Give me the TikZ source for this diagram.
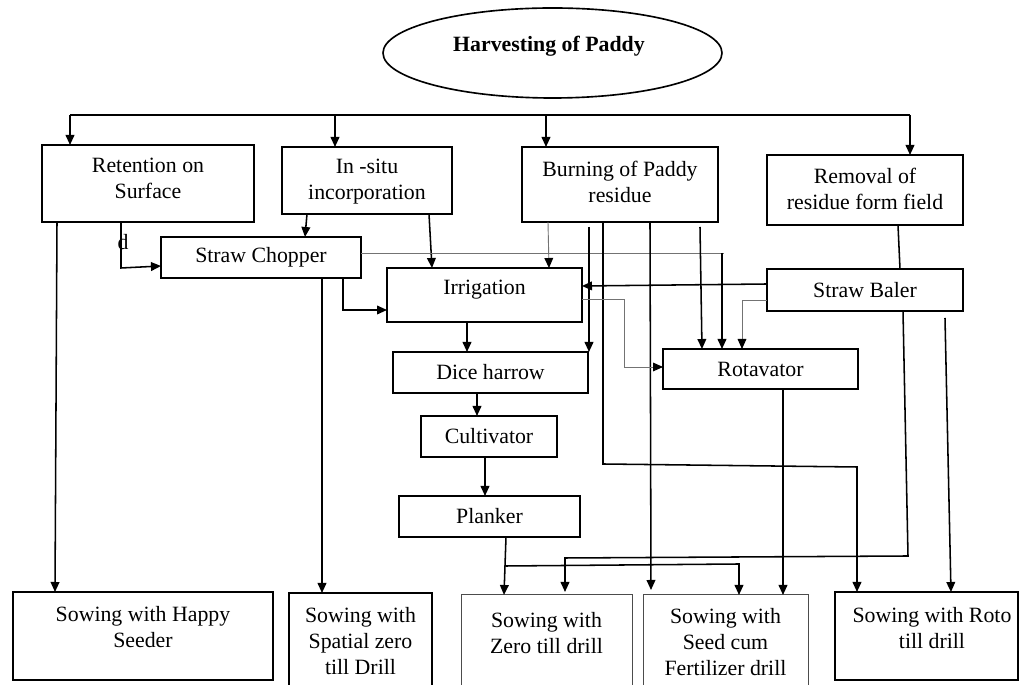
\documentclass[tikz,border=0pt]{standalone}
\usepackage{fontspec}
\setmainfont{Liberation Serif}
\usetikzlibrary{arrows.meta,shapes.geometric}
\newcommand{\boxfont}{\fontsize{12}{14.3}\selectfont}
\begin{document}
\begin{tikzpicture}[x=0.55pt,y=-0.55pt,
 bx/.style={draw,line width=0.9pt,inner sep=0pt,outer sep=0pt,align=center,font=\boxfont},
 bxl/.style={draw=black!70,line width=0.55pt,inner sep=0pt,outer sep=0pt},
 txt/.style={inner sep=0pt,align=center,font=\boxfont},
 ln/.style={line width=0.85pt},
 arr/.style={ln,-{Triangle[length=5.5pt,width=4.8pt]}},
 thin/.style={line width=0.5pt,draw=black!55},
 tarr/.style={thin,-{Triangle[length=5.5pt,width=4.8pt,color=black]}}]
\useasboundingbox (0,0) rectangle (1021,685);
\clip (0,0) rectangle (1021,685);

% title
\node[draw,ellipse,line width=0.9pt,minimum width={339*0.55pt},minimum height={90*0.55pt},inner sep=0pt] (title) at (552.5,53) {};
\node[txt,font=\boxfont\bfseries] (titletxt) at (549,46) {Harvesting of Paddy};

% boxes
\node[bx,minimum width={212*0.55pt},minimum height={77*0.55pt}] (ret) at (148,183.5) {};
\node[txt] (rettxt) at (148,178) {Retention on\\Surface};
\node[bx,minimum width={170*0.55pt},minimum height={67*0.55pt}] (insitu) at (367,180.5) {};
\node[txt] (insitutxt) at (367,182) {In -situ\\incorporation};
\node[bx,minimum width={196*0.55pt},minimum height={75*0.55pt}] (burn) at (620,184.5) {};
\node[txt] (burntxt) at (620,182) {Burning of Paddy\\residue};
\node[bx,minimum width={196*0.55pt},minimum height={70*0.55pt}] (remove) at (865,190) {};
\node[txt] (removetxt) at (865,188.5) {Removal of\\residue form field};
\node[bx,minimum width={200*0.55pt},minimum height={41*0.55pt}] (chop) at (261,257.5) {Straw Chopper};
\node[bx,minimum width={195*0.55pt},minimum height={54*0.55pt}] (irr) at (484.5,295) {};
\node[txt] (irrtxt) at (484.5,290) {Irrigation};
\node[bx,minimum width={196*0.55pt},minimum height={42*0.55pt}] (baler) at (865,290) {Straw Baler};
\node[bx,minimum width={195*0.55pt},minimum height={40*0.55pt}] (rota) at (760.5,369) {Rotavator};
\node[bx,minimum width={195*0.55pt},minimum height={41*0.55pt}] (dice) at (490.5,372.5) {Dice harrow};
\node[bx,minimum width={136*0.55pt},minimum height={41*0.55pt}] (cult) at (489,436.5) {Cultivator};
\node[bx,minimum width={181*0.55pt},minimum height={41*0.55pt}] (plank) at (489.5,516.5) {Planker};

\node[bx,minimum width={260*0.55pt},minimum height={88*0.55pt}] (happy) at (143,636) {};
\node[txt] (happytxt) at (143,627) {Sowing with Happy\\Seeder};
\node[bx,minimum width={143*0.55pt},minimum height={107*0.55pt}] (spatial) at (360.5,646.5) {};
\node[txt] (spatialtxt) at (360.5,641) {Sowing with\\Spatial zero\\till Drill};
\node[bxl,minimum width={171*0.55pt},minimum height={105*0.55pt}] (zero) at (546.5,647.5) {};
\node[txt] (zerotxt) at (546.5,633) {Sowing with\\Zero till drill};
\node[bxl,minimum width={165*0.55pt},minimum height={105*0.55pt}] (seed) at (725.5,647.5) {};
\node[txt] (seedtxt) at (725.5,642.5) {Sowing with\\Seed cum\\Fertilizer drill};
\node[bx,minimum width={183*0.55pt},minimum height={88*0.55pt}] (roto) at (926.5,636) {};
\node[txt] (rototxt) at (932,628) {Sowing with Roto\\till drill};

\node[txt] (dmark) at (123,242) {d};

% bus from harvesting
\coordinate (b1) at (70,115);
\coordinate (b2) at (335,115);
\coordinate (b3) at (546,115);
\coordinate (b4) at (910,115);
\draw[ln] (b1) -- (b4);
\draw[arr] (b1) -- (b1 |- ret.north);
\draw[arr] (b2) -- (b2 |- insitu.north);
\draw[arr] (b3) -- (b3 |- burn.north);
\draw[arr] (b4) -- (b4 |- remove.north);

% retention
\draw[arr] (121,0 |- ret.south) -- (121,268) -- (chop.west |- 0,266);
\draw[arr] (57,0 |- ret.south) -- (55,0 |- happy.north);

% in-situ
\draw[arr] (307,0 |- insitu.south) -- (305,0 |- chop.north);
\draw[arr] (429,0 |- insitu.south) -- (432,0 |- irr.north);

% straw chopper
\draw[arr] (343,0 |- chop.south) -- (343,310) -- (irr.west |- 0,310);
\draw[arr] (322,0 |- chop.south) -- (322,0 |- spatial.north);
\draw[thin] (chop.east |- 0,253) -- (724,253);
\draw[arr] (722,253) -- (722,0 |- rota.north);

% burning
\draw[tarr] (548,0 |- burn.south) -- (549,0 |- irr.north);
\draw[arr] (589,227) -- (589,0 |- dice.north);
\draw[arr] (603,0 |- burn.south) -- (603,464) -- (857,467) -- (857,0 |- roto.north);
\draw[arr] (650,0 |- burn.south) -- (651,590);
\draw[arr] (700,227) -- (702,0 |- rota.north);

% straw baler
\draw[arr] (baler.west |- 0,284) -- (irr.east |- 0,286);
\draw[tarr] (baler.west |- 0,300) -- (742,300) -- (742,0 |- rota.north);
\draw[ln] (898,0 |- remove.south) -- (900,0 |- baler.north);
\draw[arr] (903,0 |- baler.south) -- (908,556) -- (565,558) -- (565,592);
\coordinate (bs) at (945,318);
\draw[arr] (bs) -- (951,0 |- roto.north);

% irrigation
\draw[tarr] (irr.east |- 0,299) -- (624,299) -- (624,367) -- (rota.west |- 0,367);
\draw[arr] (467,0 |- irr.south) -- (467,0 |- dice.north);

% rotavator
\draw[arr] (783,0 |- rota.south) -- (783,0 |- seed.north);

% dice, cultivator, planker
\draw[arr] (477,0 |- dice.south) -- (477,0 |- cult.north);
\draw[arr] (485,0 |- cult.south) -- (485,0 |- plank.north);
\draw[arr] (506,0 |- plank.south) -- (504,0 |- zero.north);
\draw[arr] (506,566) -- (739,564) -- (739,0 |- seed.north);
\end{tikzpicture}
\end{document}
